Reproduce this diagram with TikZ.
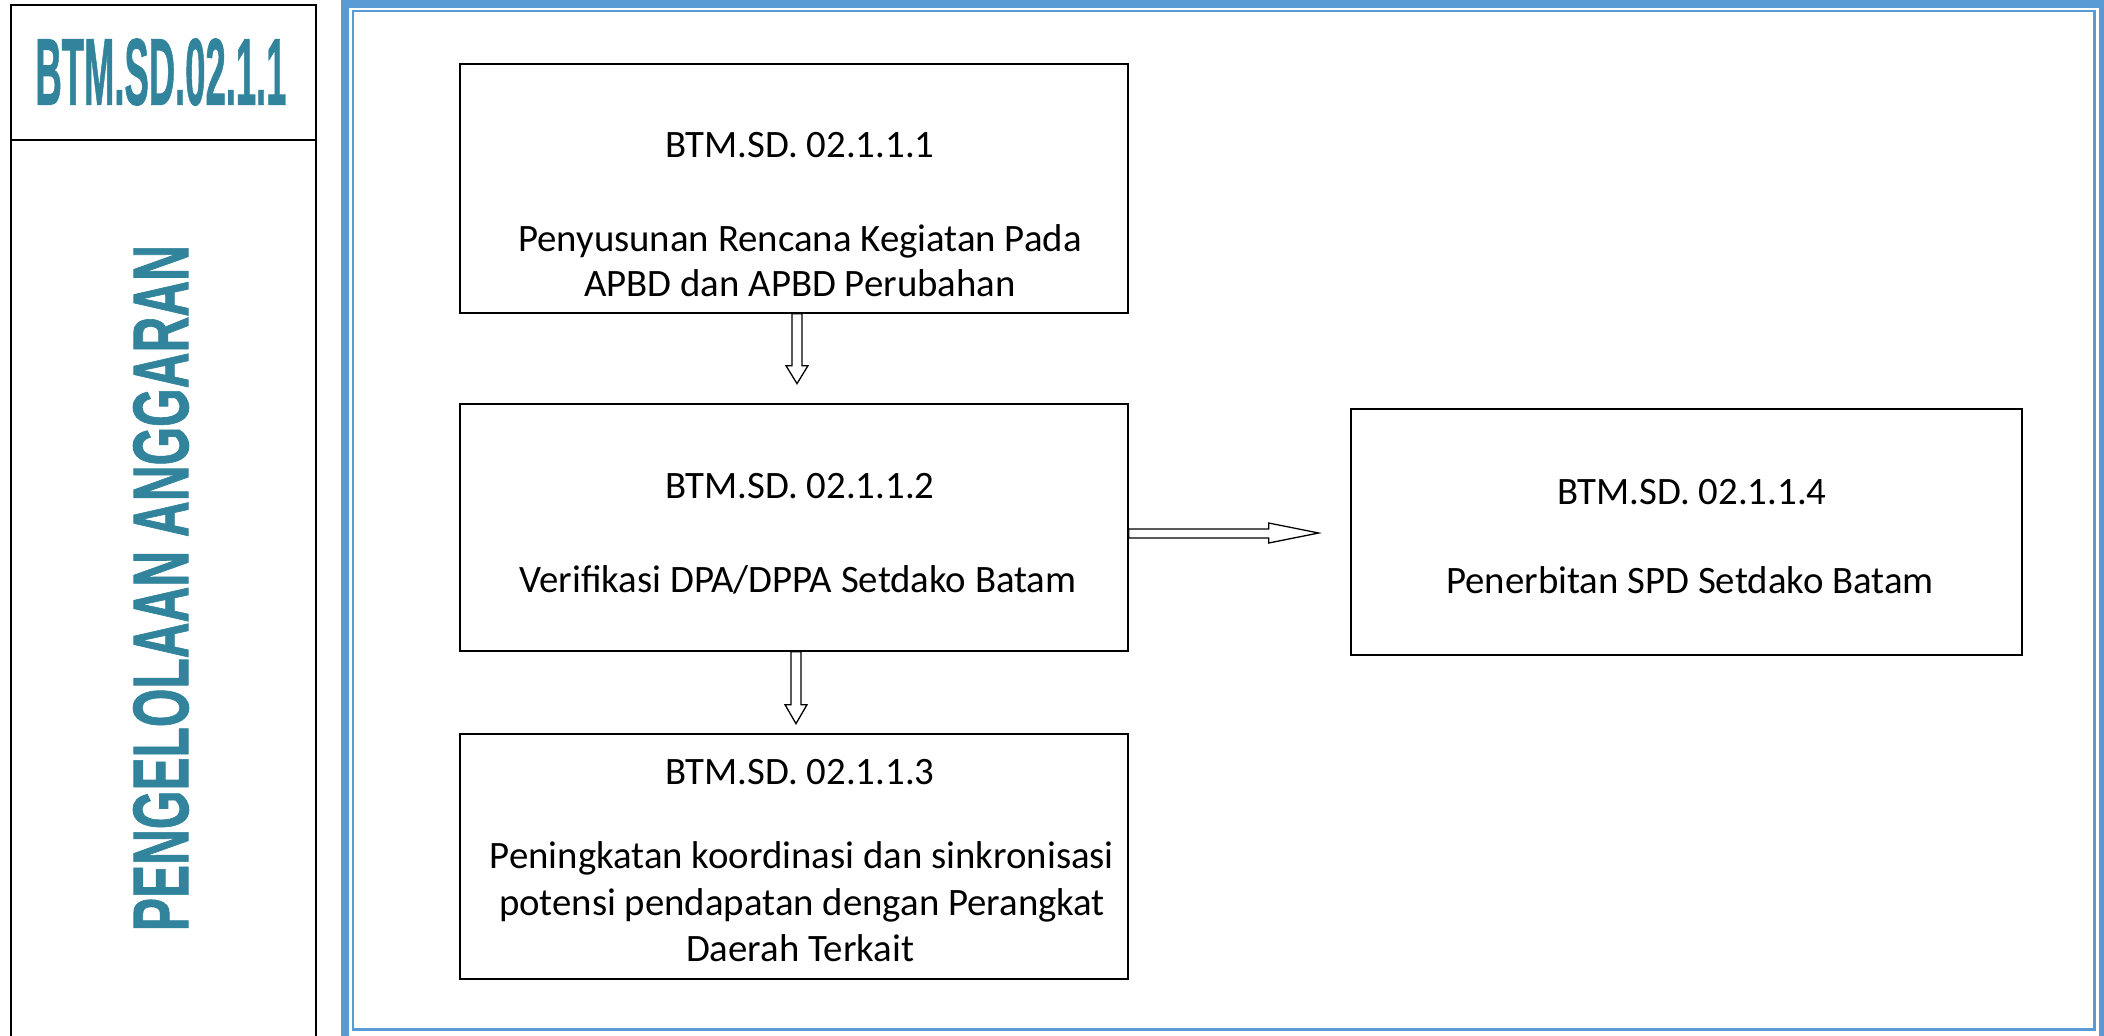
\documentclass[tikz,border=0pt]{standalone}
\usepackage{fontspec}
\usetikzlibrary{calc}
\newfontfamily\boxfont{Carlito}
\newfontfamily\headfont{Liberation Sans Bold}[FakeBold=1.2]
\definecolor{teal1}{RGB}{49,132,155}
\definecolor{frameblue}{RGB}{91,155,213}
\tikzset{
  procbox/.style={draw, line width=0.65pt, inner sep=0pt, rectangle},
  txt/.style={font=\boxfont\fontsize{19.4pt}{23pt}\selectfont, inner sep=0pt, anchor=base},
  barrow/.style={draw, fill=white, line width=0.65pt, line join=miter},
  panel/.style={draw, line width=0.75pt},
}
\begin{document}
\begin{tikzpicture}[x=0.5pt, y=-0.5pt]
\clip (0,0) rectangle (2104,1035);
\fill[white] (0,0) rectangle (2104,1035);
% left panel
\draw[panel] (11,1050) -- (11,5) -- (316,5) -- (316,1050);
\draw[panel] (11,140) -- (316,140);
\node[inner sep=0pt, text=teal1] (title) at (161,72)
  {\resizebox{125.5pt}{33pt}{\headfont BTM.SD.02.1.1}};
\node[inner sep=0pt, text=teal1, rotate=90] (vtitle) at (161,588)
  {\resizebox{343pt}{27.5pt}{\headfont PENGELOLAAN ANGGARAN}};
% blue frame
\draw[frameblue, line width=4pt] (345,4) rectangle (2103,1060);
\draw[frameblue, line width=1.25pt] (353,11) rectangle (2094.5,1029.5);
% boxes
\node[procbox, minimum width=334pt, minimum height=124.5pt] (b1) at (794,188.5) {};
\node[procbox, minimum width=334pt, minimum height=123.5pt] (b2) at (794,527.5) {};
\node[procbox, minimum width=334pt, minimum height=122.5pt] (b3) at (794,856.5) {};
\node[procbox, minimum width=335.5pt, minimum height=123pt] (b4) at (1686.5,532) {};
% texts
\node[txt] (t1a) at (800,157) {BTM.SD. 02.1.1.1};
\node[txt] (t1b) at (800,251) {Penyusunan Rencana Kegiatan Pada};
\node[txt] (t1c) at (800,296) {APBD dan APBD Perubahan};
\node[txt] (t2a) at (800,498) {BTM.SD. 02.1.1.2};
\node[txt] (t2b) at (798,592) {Verifikasi DPA/DPPA Setdako Batam};
\node[txt] (t3a) at (800,784) {BTM.SD. 02.1.1.3};
\node[txt] (t3b) at (802,868) {Peningkatan koordinasi dan sinkronisasi};
\node[txt] (t3c) at (802,915) {potensi pendapatan dengan Perangkat};
\node[txt] (t3d) at (800,961) {Daerah Terkait};
\node[txt] (t4a) at (1692,504) {BTM.SD. 02.1.1.4};
\node[txt] (t4b) at (1690,593) {Penerbitan SPD Setdako Batam};
% block arrows
\draw[barrow] ($(b1.south)+(-2,0)$) -- ++(0,52) -- ++(-6,0) -- ++(11,18)
  -- ++(11,-18) -- ++(-6,0) -- ++(0,-52) -- cycle;
\draw[barrow] ($(b2.south)+(-3,0)$) -- ++(0,53) -- ++(-6,0) -- ++(11,19)
  -- ++(11,-19) -- ++(-6,0) -- ++(0,-53) -- cycle;
\draw[barrow] ($(b2.east)+(0,1.5)$) -- ++(140,0) -- ++(0,-6) -- ++(50,10)
  -- ++(-50,10) -- ++(0,-5) -- ++(-140,0) -- cycle;
\end{tikzpicture}
\end{document}
